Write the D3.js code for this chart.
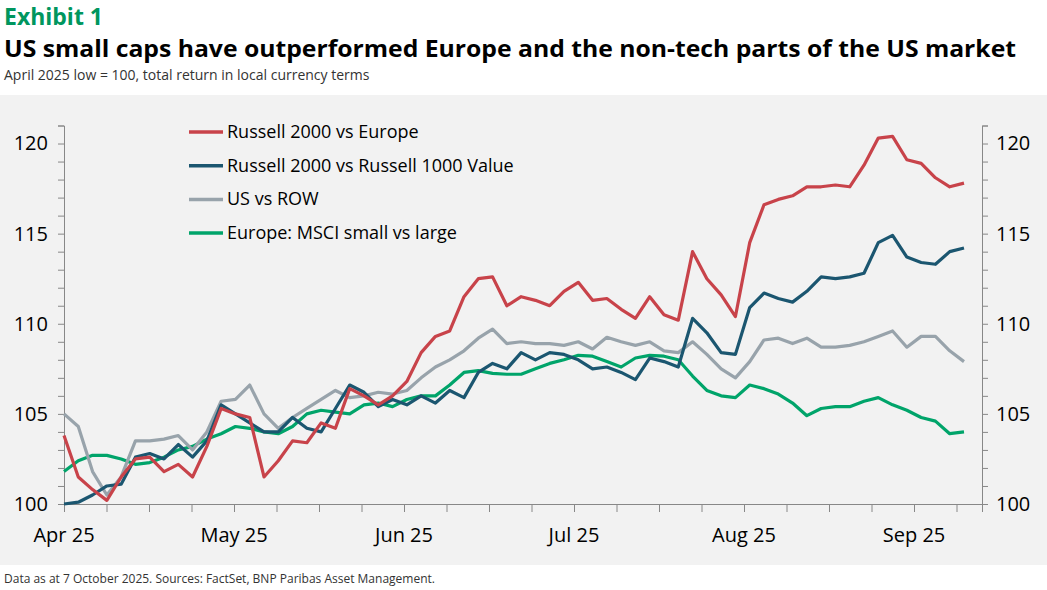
<!DOCTYPE html>
<html>
<head>
<meta charset="utf-8">
<script src="https://cdn.jsdelivr.net/npm/d3@7"></script>
<style>
  body { margin: 0; background: #fff; font-family: "Open Sans", sans-serif; }
  #chart { position: relative; width: 1047px; height: 590px; }
</style>
</head>
<body>
<div id="chart"></div>
<script>
// every 2nd trading day, starting at the April 2025 low
let series = [
    {name: "Russell 2000 vs Europe", color: "#c8434a", values: [
        103.8,101.5,100.8,100.2,101.5,102.5,102.6,101.8,102.2,101.5,103.2,105.3,105.0,104.8,101.5,102.4,
        103.5,103.4,104.5,104.2,106.4,106.0,105.5,106.0,106.8,108.4,109.3,109.6,111.5,112.5,112.6,111.0,
        111.5,111.3,111.0,111.8,112.3,111.3,111.4,110.8,110.3,111.5,110.5,110.2,114.0,112.5,111.6,110.4,
        114.5,116.6,116.9,117.1,117.6,117.6,117.7,117.6,118.8,120.3,120.4,119.1,118.9,118.1,117.6,117.8]},
    {name: "Russell 2000 vs Russell 1000 Value", color: "#1b5670", values: [
        100.0,100.1,100.5,101.0,101.1,102.6,102.8,102.5,103.3,102.6,103.5,105.5,105.0,104.5,104.0,104.0,
        104.8,104.2,104.0,105.3,106.6,106.2,105.4,105.8,105.5,106.0,105.6,106.3,105.9,107.3,107.8,107.5,
        108.4,108.0,108.4,108.3,108.0,107.5,107.6,107.3,106.9,108.1,107.9,107.6,110.3,109.5,108.4,108.3,
        110.9,111.7,111.4,111.2,111.8,112.6,112.5,112.6,112.8,114.5,114.9,113.7,113.4,113.3,114.0,114.2]},
    {name: "US vs ROW", color: "#98a3ab", values: [
        105.0,104.3,101.8,100.5,101.5,103.5,103.5,103.6,103.8,103.0,104.0,105.7,105.8,106.6,105.0,104.2,
        104.8,105.3,105.8,106.3,105.9,106.0,106.2,106.1,106.3,107.0,107.6,108.0,108.5,109.2,109.7,108.9,
        109.0,108.9,108.9,108.8,109.0,108.6,109.25,109.0,108.8,109.0,108.5,108.4,109.0,108.3,107.5,107.0,
        107.9,109.1,109.2,108.9,109.2,108.7,108.7,108.8,109.0,109.3,109.6,108.7,109.3,109.3,108.5,107.9]},
    {name: "Europe: MSCI small vs large", color: "#00a46a", values: [
        101.8,102.4,102.7,102.7,102.5,102.2,102.3,102.6,103.0,103.2,103.6,103.9,104.3,104.2,104.0,103.9,
        104.3,105.0,105.2,105.1,105.0,105.5,105.6,105.4,105.8,106.0,106.0,106.6,107.3,107.4,107.25,107.2,
        107.2,107.5,107.8,108.0,108.25,108.2,107.9,107.6,108.1,108.25,108.2,108.0,107.1,106.3,106.0,105.9,
        106.6,106.4,106.1,105.6,104.9,105.3,105.4,105.4,105.7,105.9,105.5,105.2,104.8,104.6,103.9,104.0]}
];

let months = ["Apr 25", "May 25", "Jun 25", "Jul 25", "Aug 25", "Sep 25"];

let w = 1047, h = 590;
let svg = d3.select("#chart").append("svg").attr("width", w).attr("height", h);

svg.append("rect").attr("x", 0).attr("y", 95).attr("width", w).attr("height", 470).attr("fill", "#f2f2f2");

svg.append("text").attr("x", 4).attr("y", 25).attr("fill", "#00965e")
    .style("font-size", "23px").style("font-weight", "bold").text("Exhibit 1");
svg.append("text").attr("x", 4).attr("y", 57).attr("fill", "#000")
    .style("font-size", "24px").style("font-weight", "bold")
    .attr("textLength", 1012).attr("lengthAdjust", "spacingAndGlyphs")
    .text("US small caps have outperformed Europe and the non-tech parts of the US market");
svg.append("text").attr("x", 4).attr("y", 80).attr("fill", "#333")
    .style("font-size", "14px").text("April 2025 low = 100, total return in local currency terms");
svg.append("text").attr("x", 4).attr("y", 583).attr("fill", "#333")
    .style("font-size", "12px").text("Data as at 7 October 2025. Sources: FactSet, BNP Paribas Asset Management.");

let xScale = d3.scaleLinear().domain([0, 64.26]).range([64, 982]);
let yScale = d3.scaleLinear().domain([100, 121]).range([504, 125.5]);

let tickStep = 2.975;
let xTicks = d3.range(0, 22).map(i => i * tickStep);
let xAxis = d3.axisBottom(xScale).tickValues(xTicks).tickSize(8).tickFormat("");
svg.append("g").attr("transform", "translate(0," + yScale(100) + ")").call(xAxis);

svg.append("g").selectAll("text").data(months).enter().append("text")
    .attr("x", (d, i) => xScale(i * tickStep * 4))
    .attr("y", 542).attr("text-anchor", "middle")
    .style("font-size", "20px").attr("fill", "#000").text(d => d);

let yTicks = d3.range(100, 122, 1);
let fmt = v => (v % 5 === 0 ? v : "");
svg.append("g").attr("transform", "translate(64,0)")
    .call(d3.axisLeft(yScale).tickValues(yTicks).tickSize(6).tickPadding(10).tickFormat(fmt));
svg.append("g").attr("transform", "translate(982,0)")
    .call(d3.axisRight(yScale).tickValues(yTicks).tickSize(6).tickPadding(8).tickFormat(fmt));

svg.selectAll(".domain, .tick line").attr("stroke", "#888");
svg.selectAll(".tick text").style("font-size", "20px").style("font-family", "Open Sans").attr("fill", "#000");

let line = d3.line().x((d, i) => xScale(i)).y(d => yScale(d));

// draw back to front: green, gray, blue, red on top
[3, 2, 1, 0].forEach(function(k) {
    svg.append("path").datum(series[k].values)
        .attr("d", line).attr("fill", "none")
        .attr("stroke", series[k].color).attr("stroke-width", 3.2)
        .attr("stroke-linejoin", "round");
});

let legend = svg.append("g");
series.forEach(function(s, i) {
    let y = 132 + i * 33.7;
    legend.append("line").attr("x1", 189).attr("x2", 223).attr("y1", y).attr("y2", y)
        .attr("stroke", s.color).attr("stroke-width", 3.5);
    legend.append("text").attr("x", 227).attr("y", y + 6)
        .style("font-size", "18px").attr("fill", "#000").text(s.name);
});
</script>
</body>
</html>
